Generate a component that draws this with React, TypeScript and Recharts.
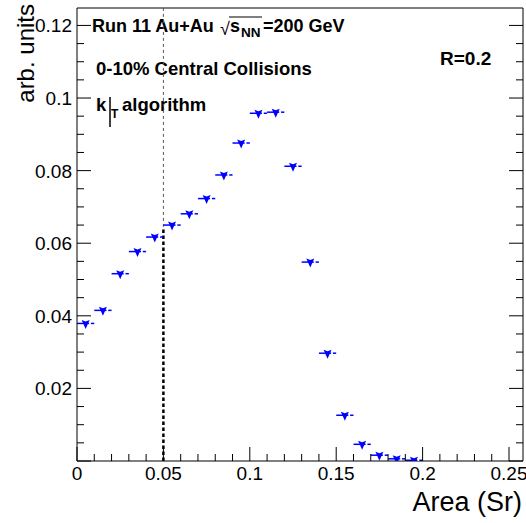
import React from 'react';
import { ScatterChart, Scatter, XAxis, YAxis, ErrorBar, ReferenceLine, Customized } from 'recharts';

// Bin centres of the jet area (Sr)
const areaCenters = [
  0.005, 0.015, 0.025, 0.035, 0.045, 0.055, 0.065, 0.075, 0.085, 0.095,
  0.105, 0.115, 0.125, 0.135, 0.145, 0.155, 0.165, 0.175, 0.185, 0.195,
];
// Distribution values (arb. units)
const densities = [
  0.0379, 0.0415, 0.0516, 0.0577, 0.0617, 0.0650, 0.0681, 0.0723, 0.0788, 0.0876,
  0.0958, 0.0961, 0.0812, 0.0548, 0.0297, 0.0126, 0.0046, 0.0016, 0.0006, 0.0002,
];
// Horizontal half bin widths
const areaErrors = [
  0.005, 0.005, 0.005, 0.005, 0.005, 0.005, 0.005, 0.005, 0.005, 0.005,
  0.005, 0.005, 0.005, 0.005, 0.005, 0.005, 0.005, 0.005, 0.005, 0.005,
];

const xTicks = [
  0, 0.01, 0.02, 0.03, 0.04, 0.05, 0.06, 0.07, 0.08, 0.09, 0.1, 0.11, 0.12, 0.13,
  0.14, 0.15, 0.16, 0.17, 0.18, 0.19, 0.2, 0.21, 0.22, 0.23, 0.24, 0.25,
];
const xMajorTicks = [0, 0.05, 0.1, 0.15, 0.2, 0.25];
const xTickLabels = ['0', '0.05', '0.1', '0.15', '0.2', '0.25'];

const yTicks = [
  0, 0.005, 0.01, 0.015, 0.02, 0.025, 0.03, 0.035, 0.04, 0.045, 0.05, 0.055, 0.06,
  0.065, 0.07, 0.075, 0.08, 0.085, 0.09, 0.095, 0.1, 0.105, 0.11, 0.115, 0.12,
];
const yMajorTicks = [0, 0.02, 0.04, 0.06, 0.08, 0.1, 0.12];
const yTickLabels = ['', '0.02', '0.04', '0.06', '0.08', '0.1', '0.12'];

const xDomain = [0, 0.2581];
const yDomain = [0, 0.1248];
const cutArea = 0.05;
const cutMarkerTop = 0.0645;

const data = areaCenters.map((x, i) => ({ x, y: densities[i], ex: areaErrors[i] }));

const FONT = '"Liberation Sans", Arial, Helvetica, sans-serif';
const BLUE = '#0000ff';

const majorIndex = (list: number[], v: number) => list.findIndex((m) => Math.abs(m - v) < 1e-9);

const XTick = (props: any) => {
  const { x, y, payload } = props;
  const idx = majorIndex(xMajorTicks, payload.value);
  const len = idx >= 0 ? 14 : 7;
  return (
    <g>
      <line x1={x} y1={y} x2={x} y2={y - len} stroke="#000" strokeWidth={1} />
      {idx >= 0 && (
        <text x={x} y={y + 19} textAnchor="middle" fontFamily={FONT} fontSize={19} fill="#000">
          {xTickLabels[idx]}
        </text>
      )}
    </g>
  );
};

const YTickLeft = (props: any) => {
  const { x, y, payload } = props;
  const idx = majorIndex(yMajorTicks, payload.value);
  const len = idx >= 0 ? 14 : 7;
  return (
    <g>
      <line x1={x} y1={y} x2={x + len} y2={y} stroke="#000" strokeWidth={1} />
      {idx >= 0 && yTickLabels[idx] !== '' && (
        <text x={x - 5} y={y + 7} textAnchor="end" fontFamily={FONT} fontSize={19} fill="#000">
          {yTickLabels[idx]}
        </text>
      )}
    </g>
  );
};

const YTickRight = (props: any) => {
  const { x, y, payload } = props;
  const idx = majorIndex(yMajorTicks, payload.value);
  const len = idx >= 0 ? 14 : 7;
  return <line x1={x} y1={y} x2={x - len} y2={y} stroke="#000" strokeWidth={1} />;
};

const Marker = (props: any) => {
  const { cx, cy } = props;
  if (cx == null || cy == null) return null;
  return (
    <g>
      <rect x={cx + 3.5} y={cy - 1.5} width={1.8} height={3} fill="#fff" />
      <path
        d={`M${cx - 4},${cy - 3.5} L${cx},${cy - 2} L${cx + 4},${cy - 3.5} L${cx},${cy + 5.5} Z`}
        fill={BLUE}
      />
    </g>
  );
};

const Annotations = () => (
  <g fontFamily={FONT} fill="#000">
    <text x={92} y={32} fontSize={18} fontWeight="bold">Run 11 Au+Au</text>
    <text x={220} y={35} fontSize={18}>√</text>
    <line x1={229} y1={17} x2={262} y2={17} stroke="#000" strokeWidth={1.2} />
    <text x={230} y={32} fontSize={18} fontWeight="bold">s</text>
    <text x={241} y={37} fontSize={13.5} fontWeight="bold">NN</text>
    <text x={263} y={32} fontSize={18} fontWeight="bold">=200 GeV</text>

    <text x={96} y={75} fontSize={18.5} fontWeight="bold">0-10% Central Collisions</text>

    <text x={96} y={111} fontSize={18.5} fontWeight="bold">k</text>
    <line x1={110} y1={97} x2={110} y2={127} stroke="#000" strokeWidth={1.5} />
    <text x={111} y={118} fontSize={12} fontWeight="bold">T</text>
    <text x={122} y={111} fontSize={18.5} fontWeight="bold">algorithm</text>

    <text x={440} y={65} fontSize={19} fontWeight="bold">R=0.2</text>

    <text x={522} y={511} fontSize={27} textAnchor="end">Area (Sr)</text>
    <text x={34} y={4} fontSize={24} textAnchor="end" transform="rotate(-90 34 4)">arb. units</text>
  </g>
);

export default function App() {
  return (
    <div style={{ position: 'absolute', left: 0, top: 0, width: 526, height: 523, background: '#fff' }}>
      <ScatterChart width={526} height={523} margin={{ top: 8, right: 0, bottom: 0, left: 0 }}>
        <XAxis
          type="number"
          dataKey="x"
          domain={xDomain}
          allowDataOverflow
          ticks={xTicks}
          interval={0}
          tick={<XTick />}
          tickLine={false}
          tickSize={0}
          tickMargin={0}
          height={62}
          axisLine={{ stroke: '#000', strokeWidth: 1 }}
        />
        <YAxis
          type="number"
          dataKey="y"
          domain={yDomain}
          allowDataOverflow
          ticks={yTicks}
          interval={0}
          tick={<YTickLeft />}
          tickLine={false}
          tickSize={0}
          tickMargin={0}
          width={77}
          axisLine={{ stroke: '#000', strokeWidth: 1 }}
        />
        <YAxis
          yAxisId="right"
          orientation="right"
          type="number"
          domain={yDomain}
          allowDataOverflow
          ticks={yTicks}
          interval={0}
          tick={<YTickRight />}
          tickLine={false}
          tickSize={0}
          tickMargin={0}
          width={3}
          axisLine={{ stroke: '#000', strokeWidth: 1 }}
        />
        <ReferenceLine y={yDomain[1]} stroke="#000" strokeWidth={1} />
        <ReferenceLine
          segment={[{ x: cutArea, y: cutMarkerTop }, { x: cutArea, y: yDomain[1] }]}
          stroke="#555"
          strokeWidth={1}
          strokeDasharray="3 3"
        />
        <ReferenceLine
          segment={[{ x: cutArea, y: 0 }, { x: cutArea, y: cutMarkerTop }]}
          stroke="#000"
          strokeWidth={2.5}
          strokeDasharray="3.5 2.5"
        />
        <Scatter data={data} shape={<Marker />} isAnimationActive={false} fill={BLUE}>
          <ErrorBar dataKey="ex" direction="x" width={0} stroke={BLUE} strokeWidth={1.5} />
        </Scatter>
        <Customized component={Annotations} />
      </ScatterChart>
    </div>
  );
}
